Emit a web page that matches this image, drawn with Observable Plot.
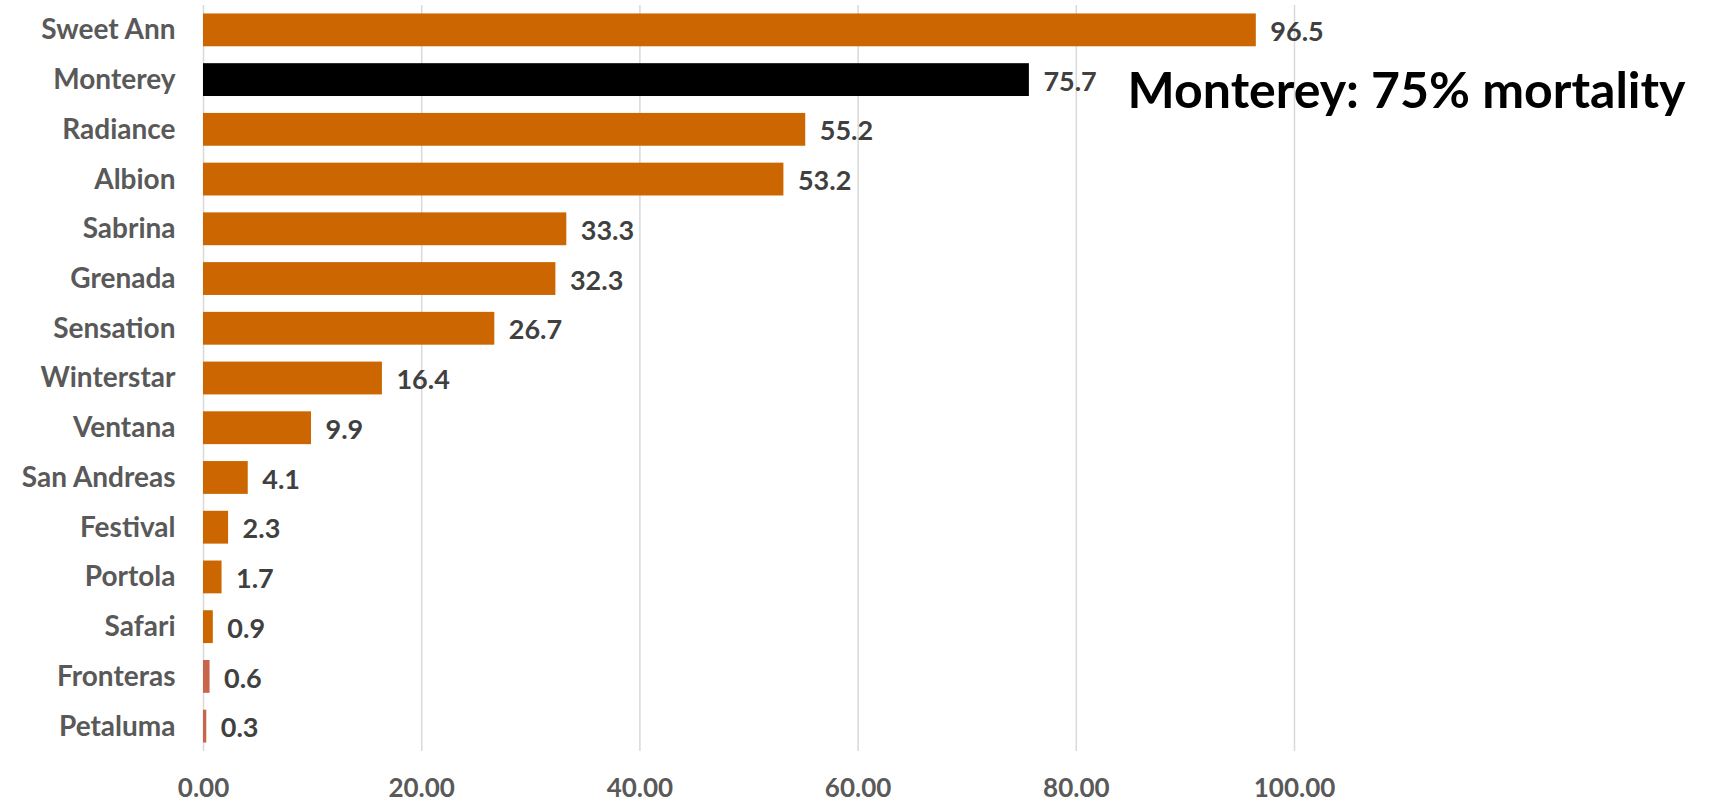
<!DOCTYPE html>
<html>
<head>
<meta charset="utf-8">
<script src="https://cdn.jsdelivr.net/npm/d3@7"></script>
<script src="https://cdn.jsdelivr.net/npm/@observablehq/plot@0.6"></script>
<style>
  html, body { margin: 0; padding: 0; background: #fff; overflow: hidden; }
  #chart svg { display: block; }
</style>
</head>
<body>
<div id="chart"></div>
<script>
const varieties = ["Sweet Ann", "Monterey", "Radiance", "Albion", "Sabrina", "Grenada", "Sensation", "Winterstar", "Ventana", "San Andreas", "Festival", "Portola", "Safari", "Fronteras", "Petaluma"];
const mortality = [96.5, 75.7, 55.2, 53.2, 33.3, 32.3, 26.7, 16.4, 9.9, 4.1, 2.3, 1.7, 0.9, 0.6, 0.3];
const xTicks = [0, 20, 40, 60, 80, 100];
const highlight = "Monterey";
const lighter = ["Fronteras", "Petaluma"];
const annotation = "Monterey: 75% mortality";

const data = varieties.map((v, i) => ({variety: v, value: mortality[i]}));

const FONT = "Lato, 'Open Sans', sans-serif";

const fillOf = d => d.variety === highlight ? "#000000" : (lighter.includes(d.variety) ? "#C8654B" : "#CC6600");

const chart = Plot.plot({
  width: 1716,
  height: 804,
  marginLeft: 203,
  marginRight: 422,
  marginTop: 5,
  marginBottom: 53,
  style: {fontFamily: FONT, background: "#fff"},
  x: {domain: [0, 100], ticks: xTicks, label: null},
  y: {domain: varieties, paddingInner: 0.34, paddingOuter: 0.17, round: false, label: null},
  marks: [
    Plot.gridX(xTicks, {stroke: "#d9d9d9", strokeOpacity: 1, strokeWidth: 1.5}),
    Plot.barX(data, {x: "value", y: "variety", fill: fillOf}),
    Plot.text(data, {x: "value", y: "variety", text: d => d.value.toFixed(1), textAnchor: "start", dx: 14, dy: 2, fill: "#404040", fontSize: 27, fontWeight: "bold"}),
    Plot.text([annotation], {y: () => highlight, frameAnchor: "right", textAnchor: "end", dx: 391, dy: 12, text: d => d, fill: "#000", fontSize: 50, fontWeight: "bold"}),
    Plot.axisX({ticks: xTicks, tickFormat: d3.format(".2f"), tickSize: 0, tickPadding: 27, fontSize: 26, fontWeight: "bold", color: "#595959", label: null}),
    Plot.axisY({tickSize: 0, tickPadding: 28, fontSize: 28, fontWeight: "bold", color: "#595959", label: null})
  ]
});
document.getElementById("chart").appendChild(chart);
</script>
</body>
</html>
